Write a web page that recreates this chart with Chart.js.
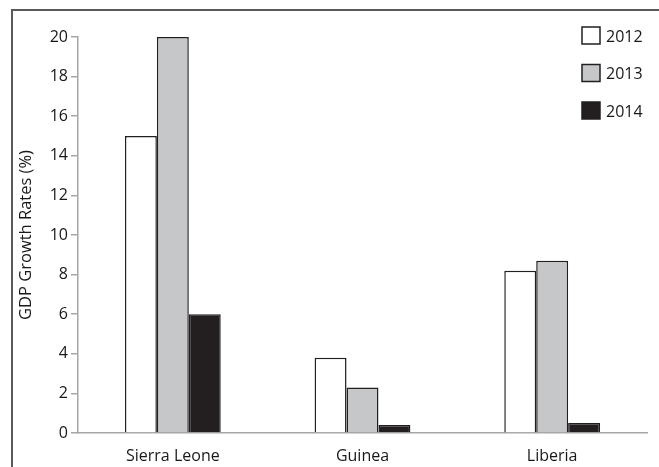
<!DOCTYPE html>
<html>
<head>
<meta charset="utf-8">
<script src="https://cdn.jsdelivr.net/npm/chart.js@4.4.1/dist/chart.umd.min.js"></script>
<style>
    html, body { margin: 0; padding: 0; background: #fff; }
    #wrap { position: relative; width: 659px; height: 467px; }
</style>
</head>
<body>
<div id="wrap"><canvas id="gdpChart" width="659" height="467"></canvas></div>
<script>
// ═══ 데이터 ═══
const countries  = ['Sierra Leone', 'Guinea', 'Liberia'];
const years      = ['2012', '2013', '2014'];
const growth2012 = [15, 3.8, 8.2];
const growth2013 = [20, 2.3, 8.7];
const growth2014 = [6, 0.4, 0.5];
const yTicks     = [0, 2, 4, 6, 8, 10, 12, 14, 16, 18, 20];

const fills = ['#ffffff', '#c6c7c9', '#231f20'];
const edge  = '#231f20';
const axisGray = '#a6a6a6';
const textColor = '#1a1718';
const fontFamily = '"Open Sans", "Noto Sans", sans-serif';

/**
 * 왼쪽/위 테두리 + 오른쪽 위 세로 범례
 */
const frameAndLegend = {
    id: 'frameAndLegend',
    afterDraw(chart) {
        const ctx = chart.ctx;
        ctx.save();
        ctx.strokeStyle = '#5a5a5a';
        ctx.lineWidth = 2;
        ctx.beginPath();
        ctx.moveTo(12, 467);
        ctx.lineTo(12, 10);
        ctx.lineTo(659, 10);
        ctx.stroke();

        chart.data.datasets.forEach((ds, i) => {
            const y = 27 + i * 37.5;
            ctx.fillStyle = ds.backgroundColor;
            ctx.fillRect(582, y, 18, 17);
            ctx.strokeStyle = edge;
            ctx.lineWidth = 1.5;
            ctx.strokeRect(582, y, 18, 17);
            ctx.fillStyle = textColor;
            ctx.font = '16px ' + fontFamily;
            ctx.textBaseline = 'middle';
            ctx.textAlign = 'left';
            ctx.fillText(ds.label, 606, y + 10);
        });
        ctx.restore();
    }
};

function makeDataset(label, values, i) {
    return {
        label: label,
        data: values,
        backgroundColor: fills[i],
        borderColor: edge,
        borderWidth: 1.5,
        borderSkipped: 'start',
        categoryPercentage: 0.505,
        barPercentage: 1.0
    };
}

new Chart(document.getElementById('gdpChart').getContext('2d'), {
    type: 'bar',
    data: {
        labels: countries,
        datasets: [
            makeDataset(years[0], growth2012, 0),
            makeDataset(years[1], growth2013, 1),
            makeDataset(years[2], growth2014, 2)
        ]
    },
    options: {
        responsive: false,
        animation: false,
        layout: { padding: { left: 12, top: 37, right: 12, bottom: 0 } },
        scales: {
            x: {
                grid: { display: false },
                border: { color: axisGray, width: 1.5 },
                ticks: { color: textColor, font: { family: fontFamily, size: 16 }, padding: 6 },
                afterFit(scale) { scale.height = 34; }
            },
            y: {
                min: 0,
                max: 20,
                afterBuildTicks(scale) { scale.ticks = yTicks.map(v => ({ value: v })); },
                grid: { drawOnChartArea: false, drawTicks: true, tickLength: 7, color: axisGray, lineWidth: 1.5 },
                border: { color: axisGray, width: 1.5 },
                ticks: { color: textColor, font: { family: fontFamily, size: 16 }, padding: 3 },
                title: {
                    display: true,
                    text: 'GDP Growth Rates (%)',
                    color: textColor,
                    font: { family: fontFamily, size: 16.5 },
                    padding: { top: 4, bottom: 4 }
                },
                afterFit(scale) { scale.width = 66; }
            }
        },
        plugins: {
            legend: { display: false },
            tooltip: { enabled: false }
        }
    },
    plugins: [frameAndLegend]
});
</script>
</body>
</html>
